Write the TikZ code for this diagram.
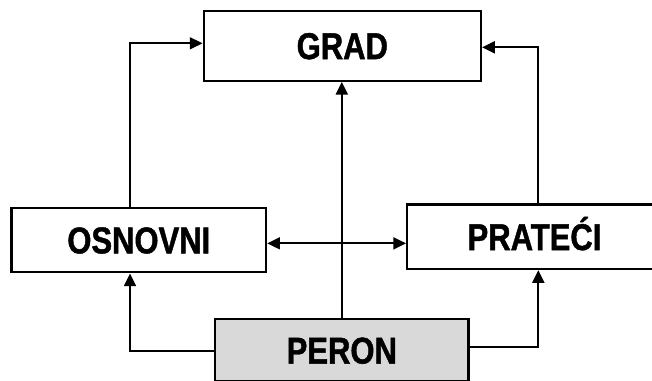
\documentclass[tikz,border=0pt]{standalone}
\usepackage{fontspec}
\setmainfont{Liberation Sans}[FakeStretch=0.83, FakeBold=1.2]
\usetikzlibrary{arrows.meta}
\definecolor{peronfill}{HTML}{D9D9D9}

\begin{document}
\begin{tikzpicture}[x=0.75pt, y=-0.75pt,
		box/.style={draw, line width=1.7pt, inner sep=0pt,
			font=\fontsize{28}{30}\selectfont\bfseries, text height=20pt, text depth=0pt},
		link/.style={line width=1.3pt, -{Triangle[length=9.5pt, width=9pt]}}]
		\useasboundingbox (0,0) rectangle (652,380);
		\clip (0,0) rectangle (652,380);
		\node[box, minimum width=208pt, minimum height=52.5pt] (grad) at (342.3, 45.7) {GRAD};
		\node[box, minimum width=191pt, minimum height=48.5pt] (osnovni) at (138.8, 240) {OSNOVNI};
		\node[box, minimum width=191pt, minimum height=48.5pt] (prateci) at (534.5, 236.7) {PRATEĆI};
		\node[box, fill=peronfill, minimum width=190pt, minimum height=46.3pt] (peron) at (341.8, 350.2) {PERON};
		\coordinate (lcol) at (130, 0);
		\coordinate (rcol) at (538.3, 0);
		\draw[link] (lcol |- osnovni.north) |- ([yshift=1.8pt]grad.west);
		\draw[link] (rcol |- prateci.north) |- ([yshift=-1.2pt]grad.east);
		\draw[link] (peron.north) -- (peron.north |- grad.south);
		\draw[link, {Triangle[length=9.5pt, width=9pt]}-{Triangle[length=9.5pt, width=9pt]}] ([yshift=-2.5pt]osnovni.east) -- ([yshift=-2.5pt]osnovni.east -| prateci.west);
		\draw[link] ([yshift=-0.6pt]peron.west) -| (lcol |- osnovni.south);
		\draw[link] ([yshift=2.6pt]peron.east) -| (rcol |- prateci.south);
	\end{tikzpicture}
\end{document}
